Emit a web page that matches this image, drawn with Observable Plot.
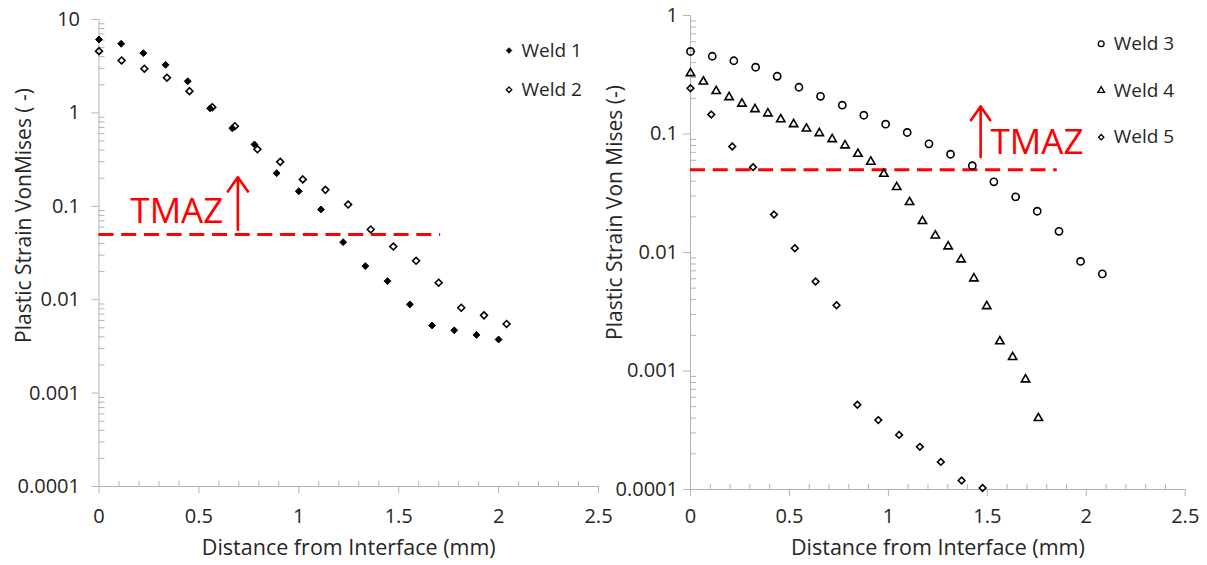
<!DOCTYPE html>
<html><head><meta charset="utf-8">
<script src="https://cdn.jsdelivr.net/npm/d3@7"></script>
<script src="https://cdn.jsdelivr.net/npm/@observablehq/plot@0.6"></script>
<style>
html,body{margin:0;padding:0;background:#fff;overflow:hidden}
#wrap{display:flex;width:1207px;height:565px}
#wrap svg{display:block;flex:none;overflow:visible}
</style></head><body><div id="wrap"></div>
<script>
// ---------- data ----------
const weld1X = [0, 0.111, 0.222, 0.333, 0.444, 0.556, 0.667, 0.778, 0.889, 1.0, 1.111, 1.222, 1.333, 1.444, 1.556, 1.667, 1.778, 1.889, 2.0];
const weld1Y = [6.1, 5.5, 4.36, 3.27, 2.18, 1.12, 0.685, 0.459, 0.226, 0.145, 0.0925, 0.0413, 0.0229, 0.0158, 0.0089, 0.0053, 0.0047, 0.0042, 0.00375];
const weld2X = [0, 0.113, 0.227, 0.34, 0.453, 0.567, 0.68, 0.793, 0.907, 1.02, 1.133, 1.247, 1.36, 1.473, 1.587, 1.7, 1.813, 1.927, 2.04];
const weld2Y = [4.58, 3.64, 2.97, 2.38, 1.71, 1.15, 0.72, 0.408, 0.299, 0.194, 0.150, 0.1045, 0.0565, 0.0371, 0.0261, 0.0152, 0.0082, 0.0068, 0.0055];
const weld3X = [0, 0.11, 0.219, 0.329, 0.438, 0.548, 0.657, 0.767, 0.876, 0.986, 1.095, 1.205, 1.314, 1.424, 1.533, 1.643, 1.752, 1.862, 1.971, 2.081];
const weld3Y = [0.497, 0.453, 0.415, 0.366, 0.307, 0.248, 0.208, 0.175, 0.144, 0.121, 0.103, 0.0826, 0.0675, 0.054, 0.0395, 0.0295, 0.0223, 0.0151, 0.0084, 0.0066];
const weld4X = [0, 0.065, 0.130, 0.195, 0.260, 0.326, 0.391, 0.456, 0.521, 0.586, 0.651, 0.716, 0.781, 0.846, 0.911, 0.977, 1.042, 1.107, 1.172, 1.237, 1.302, 1.367, 1.432, 1.497, 1.563, 1.628, 1.693, 1.758];
const weld4Y = [0.326, 0.277, 0.230, 0.2045, 0.180, 0.162, 0.149, 0.133, 0.121, 0.111, 0.1016, 0.0904, 0.080, 0.068, 0.0583, 0.0461, 0.0356, 0.0266, 0.0184, 0.0139, 0.01124, 0.00873, 0.00604, 0.00352, 0.00178, 0.00131, 0.000848, 0.0004];
const weld5X = [0, 0.105, 0.211, 0.316, 0.422, 0.527, 0.632, 0.738, 0.843, 0.949, 1.054, 1.159, 1.265, 1.370, 1.476];
const weld5Y = [0.243, 0.146, 0.0785, 0.0525, 0.0209, 0.01087, 0.00569, 0.00359, 0.000519, 0.000385, 0.000289, 0.000229, 0.000171, 0.000119, 0.000103];

const xTicks = [0, 0.5, 1, 1.5, 2, 2.5];
const leftYTicks = [0.0001, 0.001, 0.01, 0.1, 1, 10];
const rightYTicks = [0.0001, 0.001, 0.01, 0.1, 1];
const xTitle = "Distance from Interface (mm)";
const leftYTitle = "Plastic Strain VonMises ( -)";
const rightYTitle = "Plastic Strain Von Mises (-)";
const tmazLabel = "TMAZ";
const tmazLevel = 0.05;
const leftTmaz = {lineEnd: 1.71, arrowX: 0.695, arrowFrom: 0.056, arrowTo: 0.205, textX: 0.622, textY: 0.088, anchor: "end"};
const rightTmaz = {lineEnd: 1.853, arrowX: 1.466, arrowFrom: 0.064, arrowTo: 0.171, textX: 1.516, textY: 0.084, anchor: "start"};

// ---------- style ----------
const FONT = "'Open Sans', Lato, sans-serif";
const AXIS = "#b3b3b3";
const TEXT = "#262626";
const RED = "#ff0000";

const minorOf = (ticks) => ticks.slice(0, -1).flatMap(t => [2,3,4,5,6,7,8,9].map(k => +(k * t).toPrecision(3)));
const xMinor = d3.range(1, 25).filter(i => i % 5 !== 0).map(i => i / 10);
const toPts = (xs, ys) => xs.map((x, i) => ({x, y: ys[i]}));

function chart(cfg) {
  const {width, marginLeft, marginRight, marginTop, marginBottom, yTicks, series, tmaz, yTitle, legend} = cfg;
  const yMin = yTicks[0], yMax = yTicks[yTicks.length - 1];
  const marks = [
    Plot.ruleY([yMin], {stroke: AXIS}),
    Plot.ruleX([0], {stroke: AXIS}),
    Plot.ruleX(xMinor, {y1: yMin, y2: yMin, insetTop: -5, stroke: AXIS}),
    Plot.ruleY(minorOf(yTicks), {x1: 0, x2: 0, insetRight: -6, stroke: AXIS}),
    Plot.axisX({ticks: xTicks, tickSize: 7, tickPadding: cfg.xPad, tickFormat: d => String(d), stroke: AXIS, fill: TEXT, fontSize: 20, label: null}),
    Plot.axisY({ticks: yTicks, tickSize: 7, tickPadding: cfg.yPad, tickFormat: d => String(d), stroke: AXIS, fill: TEXT, fontSize: 20, label: null}),
    // TMAZ threshold
    Plot.ruleY([tmazLevel], {x1: 0, x2: tmaz.lineEnd, stroke: RED, strokeWidth: 3, strokeDasharray: "15,7.7"}),
    Plot.arrow([tmaz], {x1: "arrowX", x2: "arrowX", y1: "arrowFrom", y2: "arrowTo", stroke: RED, strokeWidth: 2.6, headLength: 13, headAngle: 70}),
    Plot.text([tmaz], {x: "textX", y: "textY", text: () => tmazLabel, textAnchor: tmaz.anchor, lineAnchor: "middle", fill: RED, fontSize: 35}),
    // axis titles
    Plot.text([xTitle], {frameAnchor: "bottom", dy: cfg.xTitleDy, text: d => d, fontSize: 21.5, fill: TEXT, lineAnchor: "middle"}),
    Plot.text([yTitle], {frameAnchor: "top-left", dx: cfg.yTitleDx, dy: cfg.yTitleDy, rotate: -90, text: d => d, fontSize: 21, fill: TEXT, textAnchor: "middle", lineAnchor: "middle"})
  ];
  series.forEach((s, i) => {
    marks.push(Plot.dot(toPts(s.xs, s.ys), {x: "x", y: "y", symbol: s.symbol, r: s.r, fill: s.fill, stroke: "#000", strokeWidth: s.fill === "none" ? 1.6 : 1}));
    marks.push(Plot.dot([s.name], {frameAnchor: "top-left", dx: legend.dx, dy: legend.dy + i * legend.step, symbol: s.symbol, r: s.r * 0.8, fill: s.fill, stroke: "#000", strokeWidth: s.fill === "none" ? 1.3 : 1}));
    marks.push(Plot.text([s.name], {frameAnchor: "top-left", dx: legend.dx + 12.5, dy: legend.dy + i * legend.step, text: d => d, textAnchor: "start", lineAnchor: "middle", fontSize: 19, fill: TEXT}));
  });
  return Plot.plot({
    width, height: 565, marginLeft, marginRight, marginTop, marginBottom,
    style: {fontFamily: FONT, background: "transparent", overflow: "visible"},
    x: {domain: [0, 2.5], axis: null},
    y: {type: "log", domain: [yMin, yMax], axis: null},
    marks
  });
}

const left = chart({
  width: 603, marginLeft: 98.5, marginRight: 5, marginTop: 19, marginBottom: 79,
  yTicks: leftYTicks, tmaz: leftTmaz, yTitle: leftYTitle, xPad: 15, yPad: 12, xTitleDy: 62, yTitleDx: -75, yTitleDy: 196,
  legend: {dx: 410, dy: 31, step: 39.3},
  series: [
    {name: "Weld 1", xs: weld1X, ys: weld1Y, symbol: "diamond2", r: 3.1, fill: "#000"},
    {name: "Weld 2", xs: weld2X, ys: weld2Y, symbol: "diamond2", r: 3.1, fill: "none"}
  ]
});
const right = chart({
  width: 604, marginLeft: 87, marginRight: 22.25, marginTop: 15, marginBottom: 76,
  yTicks: rightYTicks, tmaz: rightTmaz, yTitle: rightYTitle, xPad: 12, yPad: 5.5, xTitleDy: 59, yTitleDx: -75, yTitleDy: 197,
  legend: {dx: 410.7, dy: 28.3, step: 46.7},
  series: [
    {name: "Weld 3", xs: weld3X, ys: weld3Y, symbol: "circle", r: 3.6, fill: "none"},
    {name: "Weld 4", xs: weld4X, ys: weld4Y, symbol: "triangle", r: 3.1, fill: "none"},
    {name: "Weld 5", xs: weld5X, ys: weld5Y, symbol: "diamond2", r: 3.0, fill: "none"}
  ]
});
document.getElementById("wrap").append(left, right);
</script></body></html>
